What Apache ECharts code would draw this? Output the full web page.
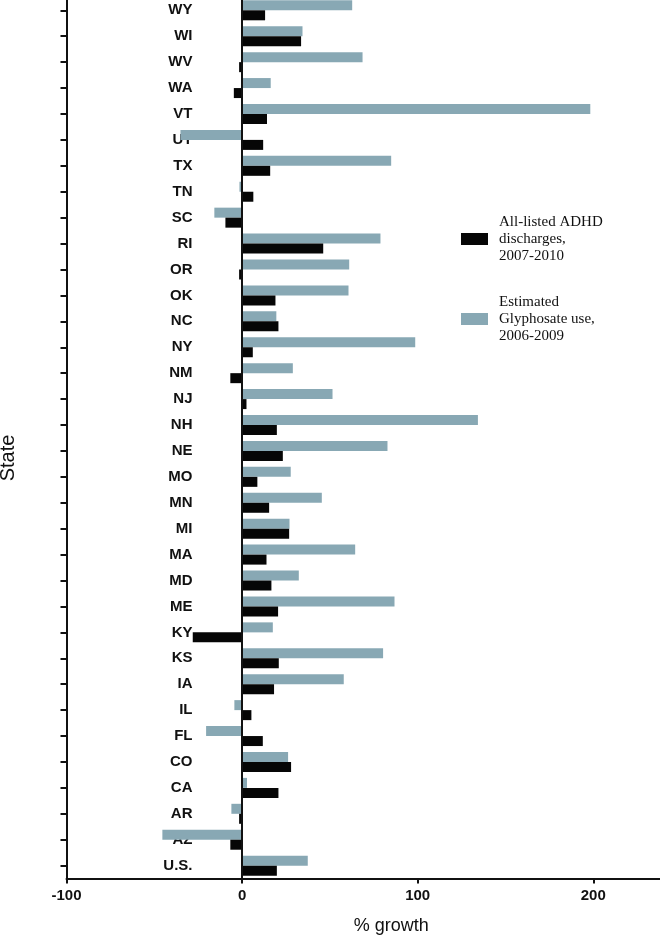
<!DOCTYPE html>
<html>
<head>
<meta charset="utf-8">
<script src="https://cdn.jsdelivr.net/npm/echarts@6/dist/echarts.min.js"></script>
<style>
html,body{margin:0;padding:0;background:#fff;}
#chart{width:660px;height:936px;}
</style>
</head>
<body>
<div id="chart"></div>
<script>
// Categories, top to bottom
var states = ['WY','WI','WV','WA','VT','UT','TX','TN','SC','RI','OR','OK','NC','NY','NM','NJ','NH','NE','MO','MN','MI','MA','MD','ME','KY','KS','IA','IL','FL','CO','CA','AR','AZ','U.S.'];
// Estimated Glyphosate use, 2006-2009 (% growth)
var glyphosate = [62.7, 34.4, 68.6, 16.3, 198.3, -35.1, 84.9, -1.5, -15.8, 78.8, 61, 60.6, 19.5, 98.6, 28.9, 51.5, 134.3, 82.8, 27.7, 45.4, 27, 64.4, 32.3, 86.8, 17.5, 80.3, 57.9, -4.4, -20.5, 26.2, 2.8, -6.1, -45.4, 37.4];
// All-listed ADHD discharges, 2007-2010 (% growth)
var adhd = [13.1, 33.6, -1.7, -4.7, 14.2, 12, 16, 6.4, -9.5, 46.2, -1.7, 19, 20.7, 6.1, -6.7, 2.5, 19.8, 23.2, 8.7, 15.4, 26.8, 13.9, 16.7, 20.5, -28.1, 20.9, 18.2, 5.3, 11.8, 27.9, 20.7, -1.7, -6.7, 19.8];
// X tick labels
var xTicks = [-100, 0, 100, 200];
var xMax = 238;

var nameAdhd = 'All-listed ADHD discharges, 2007-2010';
var nameGly = 'Estimated Glyphosate use, 2006-2009';
var legendLines = {};
legendLines[nameAdhd] = 'All-listed ADHD\ndischarges,\n2007-2010';
legendLines[nameGly] = 'Estimated\nGlyphosate use,\n2006-2009';

var chart = echarts.init(document.getElementById('chart'), null, {renderer: 'canvas'});
var sans = '"Liberation Sans", Arial, sans-serif';
var option = {
  animation: false,
  backgroundColor: '#ffffff',
  grid: {left: 66.5, right: 0, top: -2.66, bottom: 57.4, containLabel: false, outerBoundsMode: 'none'},
  legend: {
    orient: 'vertical',
    left: 461,
    top: 213.5,
    padding: 0,
    itemGap: 29,
    itemWidth: 27,
    itemHeight: 12,
    icon: 'rect',
    data: [nameAdhd, nameGly],
    formatter: function (n) { return legendLines[n]; },
    textStyle: {fontFamily: '"Liberation Serif", "Times New Roman", serif', fontSize: 15, lineHeight: 17, color: '#111', padding: [0, 0, 0, 6]}
  },
  xAxis: {
    type: 'value',
    min: xTicks[0],
    max: xMax,
    interval: xTicks[1] - xTicks[0],
    name: '% growth',
    nameLocation: 'middle',
    nameGap: 38,
    nameTextStyle: {fontFamily: sans, fontSize: 18, color: '#111', padding: [0, 0, 0, 56]},
    axisLine: {show: true, onZero: false, lineStyle: {color: '#111', width: 2}},
    axisTick: {show: true, length: 5, customValues: xTicks, lineStyle: {color: '#111', width: 2}},
    axisLabel: {fontFamily: sans, fontWeight: 'bold', fontSize: 15, color: '#111', margin: 10, customValues: xTicks},
    splitLine: {show: false}
  },
  yAxis: {
    type: 'category',
    inverse: true,
    data: states,
    name: 'State',
    nameLocation: 'middle',
    nameGap: 48,
    nameTextStyle: {fontFamily: sans, fontSize: 20, color: '#111', padding: [0, 40, 0, 0]},
    axisLine: {show: true, onZero: false, lineStyle: {color: '#111', width: 2}},
    axisTick: {show: true, alignWithLabel: true, length: 6, lineStyle: {color: '#111', width: 2}},
    axisLabel: {interval: 0, fontFamily: sans, fontWeight: 'bold', fontSize: 15, color: '#111', margin: -126, align: 'right'},
    splitLine: {show: false}
  },
  series: [
    {
      name: nameGly,
      type: 'bar',
      data: glyphosate,
      barWidth: 10,
      barGap: '0%',
      itemStyle: {color: '#88a8b4'},
      markLine: {
        silent: true,
        symbol: ['none', 'none'],
        label: {show: false},
        lineStyle: {color: '#111', width: 2, type: 'solid'},
        data: [{xAxis: 0}]
      }
    },
    {
      name: nameAdhd,
      type: 'bar',
      data: adhd,
      barWidth: 10,
      barGap: '0%',
      itemStyle: {color: '#060606'}
    }
  ]
};
chart.setOption(option);
</script>
</body>
</html>
